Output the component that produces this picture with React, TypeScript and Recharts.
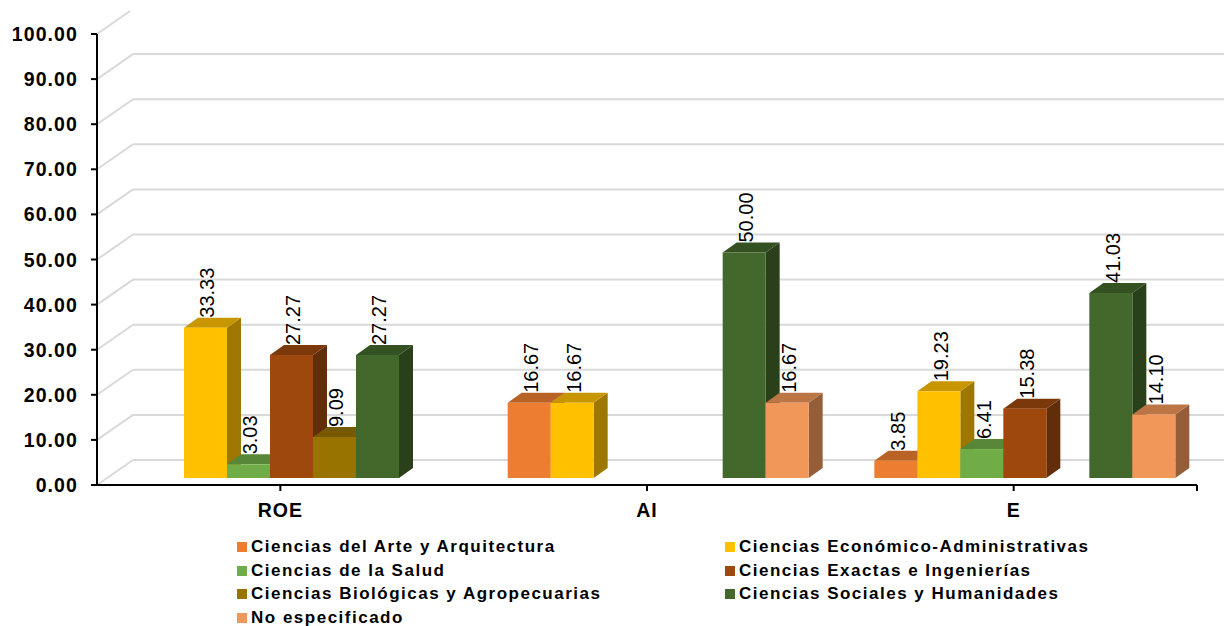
import React from 'react';
import { BarChart, Bar, XAxis, YAxis, CartesianGrid, LabelList, Legend } from 'recharts';

// Share (%) by area of knowledge for each group
const categories = ['ROE', 'AI', 'E'];
const arteArquitectura: (number | null)[] = [null, 16.67, 3.85];
const economicoAdministrativas: (number | null)[] = [33.33, 16.67, 19.23];
const salud: (number | null)[] = [3.03, null, 6.41];
const exactasIngenierias: (number | null)[] = [27.27, null, 15.38];
const biologicasAgropecuarias: (number | null)[] = [9.09, null, null];
const socialesHumanidades: (number | null)[] = [27.27, 50.0, 41.03];
const noEspecificado: (number | null)[] = [null, 16.67, 14.1];

const yTicks = [0, 10, 20, 30, 40, 50, 60, 70, 80, 90, 100];

const seriesNames = [
  'Ciencias del Arte y Arquitectura',
  'Ciencias Económico-Administrativas',
  'Ciencias de la Salud',
  'Ciencias Exactas e Ingenierías',
  'Ciencias Biológicas y Agropecuarias',
  'Ciencias Sociales y Humanidades',
  'No especificado',
];
const seriesValues = [
  arteArquitectura,
  economicoAdministrativas,
  salud,
  exactasIngenierias,
  biologicasAgropecuarias,
  socialesHumanidades,
  noEspecificado,
];
const seriesColors = ['#ED7D31', '#FFC000', '#70AD47', '#9E480E', '#997300', '#43682B', '#F1975A'];

const data = categories.map((category, i) => {
  const row: Record<string, string | number | null> = { category };
  seriesValues.forEach((vals, s) => {
    row[`s${s}`] = vals[i];
  });
  return row;
});

// layout
const W = 1224;
const H = 626;
const MARGIN = { top: 34, right: 27, bottom: 111, left: 0 };
const Y_AXIS_W = 97;
const X_AXIS_H = 30;
const PLOT_W = W - MARGIN.left - MARGIN.right - Y_AXIS_W;
const FONT = '"Liberation Sans", Arial, sans-serif';

// pseudo-3D geometry
const FRONT_DX = 11; // bars sit slightly into the floor
const FRONT_DY = 7;
const DEPTH_DX = 14; // bar depth
const DEPTH_DY = 10;
const WALL_DX = 36; // back wall offset
const WALL_DY = 25;
const TOP_CLIP = 11;

const shade = (hex: string, f: number) => {
  const n = parseInt(hex.slice(1), 16);
  const r = Math.round(((n >> 16) & 255) * f);
  const g = Math.round(((n >> 8) & 255) * f);
  const b = Math.round((n & 255) * f);
  return `rgb(${r},${g},${b})`;
};

const Prism = (props: any) => {
  const { x, y, width, height, fill, value } = props;
  if (value == null || height == null || !(height > 0)) return null;
  const X = x + FRONT_DX;
  const Y = y - FRONT_DY;
  const R = X + width;
  const B = Y + height;
  const top = `${X},${Y} ${X + DEPTH_DX},${Y - DEPTH_DY} ${R + DEPTH_DX},${Y - DEPTH_DY} ${R},${Y}`;
  const side = `${R},${Y} ${R + DEPTH_DX},${Y - DEPTH_DY} ${R + DEPTH_DX},${B - DEPTH_DY} ${R},${B}`;
  return (
    <g>
      <polygon points={side} fill={shade(fill, 0.62)} />
      <polygon points={top} fill={shade(fill, 0.78)} />
      <rect x={X} y={Y} width={width} height={height} fill={fill} />
    </g>
  );
};

const ValueLabel = (props: any) => {
  const vb = props.viewBox || {};
  const x = Number(props.x ?? vb.x);
  const y = Number(props.y ?? vb.y);
  const width = Number(props.width ?? vb.width);
  const { value } = props;
  if (value == null || Number.isNaN(x)) return null;
  const cx = x + FRONT_DX + width / 2 + 2;
  const by = y - FRONT_DY - 10;
  return (
    <text
      x={cx}
      y={by}
      dy="0.35em"
      transform={`rotate(-90 ${cx} ${by})`}
      textAnchor="start"
      fontSize={20}
      fontFamily={FONT}
      fill="#000"
    >
      {Number(value).toFixed(2)}
    </text>
  );
};

const WallLine = (p: any) => {
  const { x1, y1, x2 } = p;
  const bx = x1 + WALL_DX;
  const by = y1 - WALL_DY;
  const stroke = '#D9D9D9';
  if (by < TOP_CLIP) {
    const t = (y1 - TOP_CLIP) / WALL_DY;
    return (
      <line x1={x1} y1={y1} x2={x1 + WALL_DX * t} y2={TOP_CLIP} stroke={stroke} strokeWidth={2} />
    );
  }
  return (
    <g>
      <line x1={x1} y1={y1} x2={bx} y2={by} stroke={stroke} strokeWidth={2} />
      <line x1={bx} y1={by} x2={x2 + WALL_DX} y2={by} stroke={stroke} strokeWidth={2} />
    </g>
  );
};

const YTick = (p: any) => (
  <text
    x={p.x}
    y={p.y}
    dy={7}
    textAnchor="end"
    fontSize={19.5}
    fontWeight="bold"
    fontFamily={FONT}
    fill="#000"
    style={{ letterSpacing: '1.1px' }}
  >
    {Number(p.payload.value).toFixed(2)}
  </text>
);

const XTick = (p: any) => {
  const isLast = p.index === categories.length - 1;
  const axisY = p.y - 8;
  const endX = p.x + PLOT_W / categories.length / 2;
  return (
    <g>
      <text
        x={p.x}
        y={axisY + 32}
        textAnchor="middle"
        fontSize={19.5}
        fontWeight="bold"
        fontFamily={FONT}
        fill="#000"
        style={{ letterSpacing: '1px' }}
      >
        {p.payload.value}
      </text>
      {isLast && <line x1={endX} y1={axisY} x2={endX} y2={axisY + 6} stroke="#000" strokeWidth={2} />}
    </g>
  );
};

const LegendContent = (props: any) => {
  const payload = [...(props.payload || [])].sort(
    (a: any, b: any) => seriesNames.indexOf(a.value) - seriesNames.indexOf(b.value),
  );
  return (
    <div style={{ position: 'relative', width: W, height: 91, fontFamily: FONT }}>
      {payload.map((entry: any, i: number) => {
        const col = i % 2;
        const row = Math.floor(i / 2);
        return (
          <div
            key={entry.value}
            style={{
              position: 'absolute',
              left: col === 0 ? 237 : 725,
              top: 12 + row * 23.6 - 9,
              height: 18,
              display: 'flex',
              alignItems: 'center',
              whiteSpace: 'nowrap',
            }}
          >
            <span style={{ display: 'inline-block', width: 10, height: 10, background: entry.color, marginRight: 4 }} />
            <span style={{ fontSize: 17, fontWeight: 'bold', letterSpacing: '1.5px', color: '#000', lineHeight: '18px' }}>
              {entry.value}
            </span>
          </div>
        );
      })}
    </div>
  );
};

export default function App() {
  return (
    <div style={{ position: 'absolute', left: 0, top: 0, width: W, height: H, background: '#fff' }}>
      <BarChart width={W} height={H} data={data} margin={MARGIN} barGap={0}>
        <CartesianGrid vertical={false} horizontal={(p: any) => <WallLine {...p} />} />
        <XAxis
          dataKey="category"
          height={X_AXIS_H}
          axisLine={{ stroke: '#000', strokeWidth: 2 }}
          tickLine={{ stroke: '#000', strokeWidth: 2 }}
          tickSize={6}
          tickMargin={2}
          tick={<XTick />}
          interval={0}
        />
        <YAxis
          width={Y_AXIS_W}
          domain={[0, 100]}
          ticks={yTicks}
          interval={0}
          axisLine={{ stroke: '#000', strokeWidth: 2 }}
          tickLine={{ stroke: '#000', strokeWidth: 2 }}
          tickSize={6}
          tickMargin={13}
          tick={<YTick />}
        />
        {seriesNames.map((name, s) => (
          <Bar
            key={name}
            dataKey={`s${s}`}
            name={name}
            fill={seriesColors[s]}
            barSize={43}
            shape={<Prism />}
            isAnimationActive={false}
          >
            <LabelList dataKey={`s${s}`} content={<ValueLabel />} />
          </Bar>
        ))}
        <Legend
          layout="horizontal"
          verticalAlign="middle"
          align="center"
          wrapperStyle={{ position: 'absolute', left: 0, top: 535, width: W, height: 91 }}
          content={<LegendContent />}
        />
      </BarChart>
    </div>
  );
}
